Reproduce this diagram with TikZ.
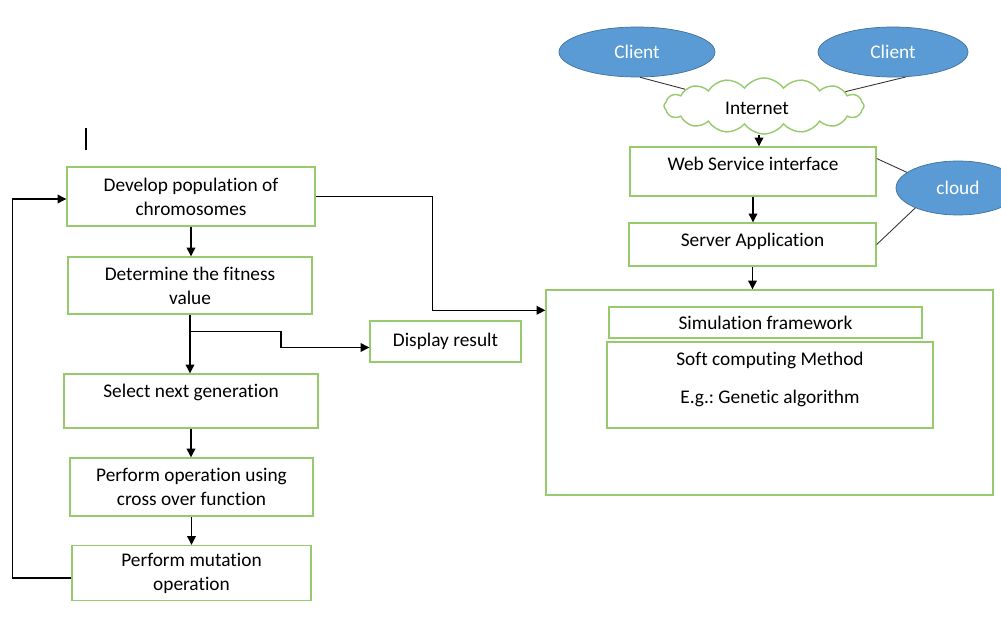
\documentclass[tikz,border=0pt]{standalone}
\usepackage{fontspec}
\setmainfont{Carlito}[Ligatures=NoCommon]
\usetikzlibrary{shapes.geometric,shapes.symbols,arrows.meta,calc}
\definecolor{boxgreen}{RGB}{150,202,108}
\definecolor{ellblue}{RGB}{91,155,213}
\definecolor{ellrim}{RGB}{65,113,156}
\tikzset{
  box/.style={draw=boxgreen, line width=0.8pt, inner sep=0pt, align=center},
  sz/.style 2 args={minimum width=#1*0.02cm, minimum height=#2*0.02cm},
  conn/.style={line width=0.7pt},
  arr/.style={conn, -{Triangle[length=5pt,width=5pt]}},
  blob/.style={ellipse, draw=ellrim, fill=ellblue, text=white, inner sep=0pt},
  tie/.style={line width=0.5pt, black!80},
}
\frenchspacing
\begin{document}
\begin{tikzpicture}[x=0.02cm, y=-0.02cm, font=\fontsize{11}{13.6}\selectfont]
  \useasboundingbox (0,0) rectangle (1001,628);
  % stray cursor mark
  \draw[line width=0.6pt] (86,128) -- (86,150);

  % genetic algorithm loop
  \node[box, sz={248}{59}] (dev) at (191,196.5) {Develop population of\\chromosomes};
  \node[box, sz={244}{57}] (fit) at (190,285.5) {Determine the fitness\\value};
  \node[box, sz={254}{54}] (sel) at (191,401) {};
  \node (seltxt) at (191,392) {Select next generation};
  \node[box, sz={243}{58}] (cro) at (191.5,487) {Perform operation using\\cross over function};
  \node[box, sz={239}{55}] (mut) at (191.5,573) {Perform mutation\\operation};
  \node[box, sz={151}{41}] (disp) at (445.5,341.5) {Display result};

  \draw[arr] (dev.south) -- (dev.south |- fit.north);
  \draw[arr] (fit.south) -- (fit.south |- sel.north);
  \coordinate (br) at ($(fit.south)+(0,17)$);
  \draw[arr] (br) -- ++(91,0) |- ($(disp.west)+(0,6)$);
  \draw[arr] (sel.south) -- (sel.south |- cro.north);
  \draw[arr] (cro.south) -- (cro.south |- mut.north);
  \draw[arr] ($(mut.west)+(0,5)$) -- ++(-59,0) |- ($(dev.west)+(0,2.5)$);

  % web side
  \node[blob, sz={156}{50}] (cl1) at (637,52) {Client};
  \node[blob, sz={150}{50}] (cl2) at (893,52) {Client};
  \node[cloud, draw=boxgreen, line width=0.8pt, cloud puffs=16, cloud puff arc=110, aspect=4.2, sz={200}{56}, inner sep=0pt] (net) at (764,106) {};
  \node (nettxt) at (757,108) {Internet};
  \node[box, sz={246}{49}] (web) at (753,171.5) {};
  \node (webtxt) at (753,164) {Web Service interface};
  \node[box, sz={247}{43}] (srv) at (752.5,244.5) {};
  \node (srvtxt) at (752.5,241) {Server Application};
  \node[blob, sz={124}{54}] (cld) at (958,188) {cloud};

  \node[box, sz={447}{205}] (big) at (769.5,392.5) {};
  \node[box, sz={313}{31}] (sim) at (765.5,322.5) {Simulation framework};
  \node[box, sz={326}{86}] (soft) at (770,385) {};
  \node (softtxt) at (770,360) {Soft computing Method};
  \node (egtxt) at (770,398) {E.g.: Genetic algorithm};

  \draw[tie] (cl1.-83) -- (net.168);
  \draw[tie] (cl2.-63) -- (net.10);
  \draw[tie] (web.6) -- (cld.163);
  \draw[tie] (srv.east) -- (cld.205);
  \coordinate (netb) at ($(net.south)+(-5,0)$);
  \draw[arr] (netb) -- (netb |- web.north);
  \draw[arr] (web.south) -- (web.south |- srv.north);
  \draw[arr] (srv.south) -- (srv.south |- big.north);
  \draw[arr] (dev.east) -- ++(117,0) |- ($(big.north west)+(0,21)$);
\end{tikzpicture}
\end{document}
